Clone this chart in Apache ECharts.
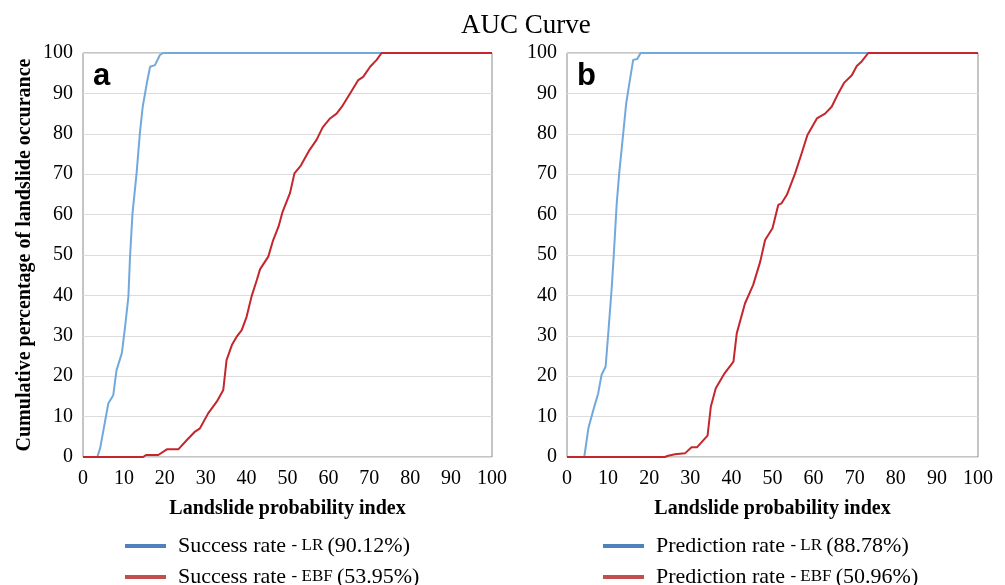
<!DOCTYPE html>
<html>
<head>
<meta charset="utf-8">
<style>
  html, body { margin: 0; padding: 0; background: #fff; }
  #chart { width: 1005px; height: 585px; }
</style>
<script src="https://cdn.jsdelivr.net/npm/echarts@6/dist/echarts.min.js"></script>
</head>
<body>
<div id="chart"></div>
<script>
// [index, cumulative %]
var successLR = [[0, 0], [3.5, 0], [4.2, 2.2], [6.2, 13.3], [7.4, 15.3], [8.2, 21.5], [9.5, 25.7], [10.3, 32.3], [11.1, 39.7], [11.5, 49.6], [12.1, 60.3], [13.1, 70.2], [13.9, 80.1], [14.6, 86.7], [15.6, 92.5], [16.4, 96.6], [17.6, 97], [18.8, 99.5], [19.6, 100], [100, 100]];
var successEBF = [[0, 0], [14.7, 0], [15.4, 0.5], [18.4, 0.5], [20.5, 1.9], [23.3, 1.9], [25.4, 4.2], [27.4, 6.3], [28.6, 7.1], [30.6, 10.8], [32.7, 13.7], [34.3, 16.6], [35.1, 24], [36.4, 27.7], [37.6, 29.8], [38.8, 31.4], [40, 34.7], [41.2, 39.7], [42.5, 43.8], [43.3, 46.5], [45.3, 49.6], [46.5, 53.7], [47.8, 57], [48.8, 60.7], [50.6, 65.3], [51.7, 70.2], [53.3, 72.2], [55.2, 75.7], [57.1, 78.5], [58.6, 81.6], [60.4, 83.8], [62, 85], [63.3, 86.7], [65.3, 90], [67.3, 93.3], [68.5, 94.1], [70.2, 96.6], [71.8, 98.3], [73, 100], [100, 100]];
var predictionLR = [[0, 0], [4.2, 0], [5.2, 7.1], [6.4, 11.6], [7.6, 15.8], [8.4, 20.3], [9.4, 22.4], [10.1, 31.4], [10.9, 42.2], [11.4, 50.4], [12.1, 62.8], [12.7, 70.2], [13.6, 79.3], [14.4, 87.5], [15.3, 93.3], [16.1, 98.3], [17.1, 98.5], [17.9, 100], [100, 100]];
var predictionEBF = [[0, 0], [23.8, 0], [24.6, 0.3], [26.3, 0.7], [28.7, 0.9], [30.3, 2.4], [31.6, 2.4], [34.2, 5.3], [35, 12.5], [36.2, 17], [38.2, 20.5], [40.5, 23.6], [41.3, 30.6], [43.3, 38], [45.3, 42.6], [47, 48.3], [48.2, 53.7], [50, 56.6], [51.4, 62.4], [52.2, 62.8], [53.5, 64.9], [55.5, 70.2], [57.1, 75.2], [58.5, 79.7], [60.8, 83.8], [62.8, 85], [64.4, 86.7], [66, 90], [67.4, 92.6], [69.3, 94.5], [70.5, 96.8], [71.7, 97.9], [73.3, 100], [100, 100]];

var seriesNames = ["Success rate - LR (90.12%)", "Success rate - EBF (53.95%)", "Prediction rate - LR (88.78%)", "Prediction rate - EBF (50.96%)"];
var legendText = [
  ["Success rate ", "- LR ", "(90.12%)"],
  ["Success rate ", "- EBF ", "(53.95%)"],
  ["Prediction rate ", "- LR ", "(88.78%)"],
  ["Prediction rate ", "- EBF ", "(50.96%)"]
];

var serif = "Liberation Serif";
var lineBlue = "#72a9dc";
var lineRed = "#c4262c";
var keyBlue = "#4f81bd";
var keyRed = "#c0504d";

function xAxis(idx) {
  return {
    gridIndex: idx, type: "value", min: 0, max: 100, interval: 10,
    name: "Landslide probability index", nameLocation: "middle", nameGap: 42,
    nameTextStyle: { fontFamily: serif, fontWeight: "bold", fontSize: 20, color: "#000" },
    axisLine: { show: false }, axisTick: { show: false }, splitLine: { show: false },
    axisLabel: { fontFamily: serif, fontSize: 20, color: "#000", margin: 12 }
  };
}
function yAxis(idx, withName) {
  return {
    gridIndex: idx, type: "value", min: 0, max: 100, interval: 10,
    name: withName ? "Cumulative percentage of landslide occurance" : "",
    nameLocation: "middle", nameGap: 48,
    nameTextStyle: { fontFamily: serif, fontWeight: "bold", fontSize: 20, color: "#000" },
    axisLine: { show: false }, axisTick: { show: false },
    splitLine: { lineStyle: { color: "#dcdcdc", width: 1 } },
    axisLabel: { fontFamily: serif, fontSize: 20, color: "#000", margin: 10, padding: [7, 0, 0, 0] }
  };
}
function legendFmt(name) {
  var t = legendText[seriesNames.indexOf(name)];
  return "{p|}{a|" + t[0] + "}{b|" + t[1] + "}{a|" + t[2] + "}";
}
var legendRich = {
  p: { width: 7 },
  a: { fontFamily: serif, fontSize: 22, lineHeight: 22, color: "#000" },
  b: { fontFamily: serif, fontSize: 17, lineHeight: 22, color: "#000" }
};
function line(name, idx, data, color, z) {
  return {
    name: name, type: "line", xAxisIndex: idx, yAxisIndex: idx, data: data,
    symbol: "none", z: z, lineStyle: { color: color, width: 2 }, itemStyle: { color: color }
  };
}
function legend(left, a, b) {
  return {
    orient: "vertical", left: left, top: 535, height: 60, padding: 0,
    itemWidth: 41, itemHeight: 4, itemGap: 9, icon: "rect",
    data: [{ name: a, itemStyle: { color: keyBlue } }, { name: b, itemStyle: { color: keyRed } }],
    formatter: legendFmt, textStyle: { rich: legendRich }
  };
}

var chart = echarts.init(document.getElementById("chart"));
chart.setOption({
  backgroundColor: "#fff",
  animation: false,
  title: [
    { text: "AUC Curve", left: 456, top: 7, textStyle: { fontFamily: serif, fontWeight: "normal", fontSize: 27, color: "#000" } },
    { text: "a", left: 88, top: 56, textStyle: { fontFamily: "Liberation Sans", fontWeight: "bold", fontSize: 31, color: "#000" } },
    { text: "b", left: 572, top: 56, textStyle: { fontFamily: "Liberation Sans", fontWeight: "bold", fontSize: 31, color: "#000" } }
  ],
  grid: [
    { left: 83, top: 53, width: 409, height: 404, show: true, borderColor: "#8a8a8a", borderWidth: 1 },
    { left: 567, top: 53, width: 411, height: 404, show: true, borderColor: "#8a8a8a", borderWidth: 1 }
  ],
  xAxis: [xAxis(0), xAxis(1)],
  yAxis: [yAxis(0, true), yAxis(1, false)],
  legend: [
    legend(125, seriesNames[0], seriesNames[1]),
    legend(603, seriesNames[2], seriesNames[3])
  ],
  series: [
    line(seriesNames[0], 0, successLR, lineBlue, 2),
    line(seriesNames[1], 0, successEBF, lineRed, 3),
    line(seriesNames[2], 1, predictionLR, lineBlue, 2),
    line(seriesNames[3], 1, predictionEBF, lineRed, 3)
  ]
});
</script>
</body>
</html>
